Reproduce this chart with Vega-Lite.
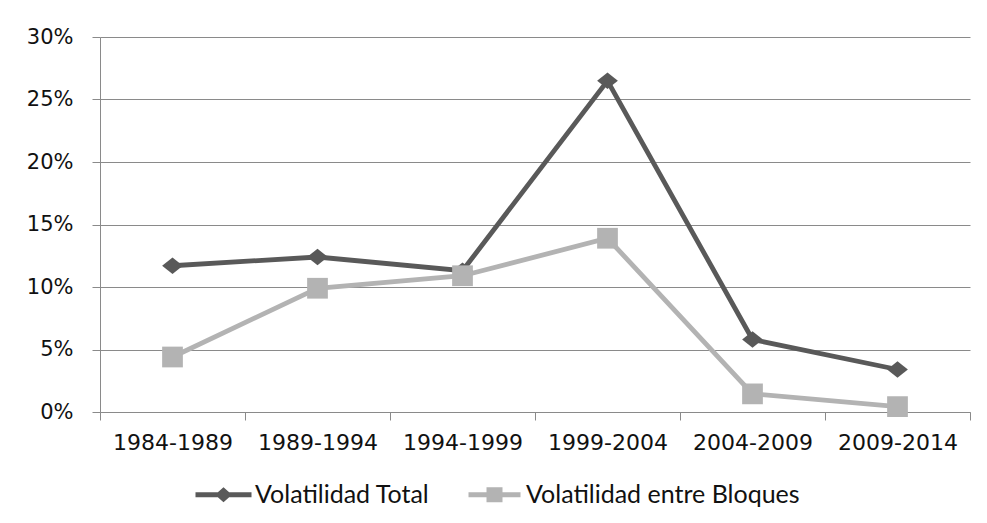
{
  "$schema": "https://vega.github.io/schema/vega-lite/v6.json",
  "autosize": "none",
  "width": 870,
  "height": 375,
  "padding": {"left": 100, "top": 37, "right": 17, "bottom": 111},
  "background": "white",
  "data": {
    "values": [
      {"periodo": "1984-1989", "serie": "Volatilidad Total", "valor": 0.117},
      {"periodo": "1989-1994", "serie": "Volatilidad Total", "valor": 0.124},
      {"periodo": "1994-1999", "serie": "Volatilidad Total", "valor": 0.113},
      {"periodo": "1999-2004", "serie": "Volatilidad Total", "valor": 0.265},
      {"periodo": "2004-2009", "serie": "Volatilidad Total", "valor": 0.058},
      {"periodo": "2009-2014", "serie": "Volatilidad Total", "valor": 0.034},
      {"periodo": "1984-1989", "serie": "Volatilidad entre Bloques", "valor": 0.044},
      {"periodo": "1989-1994", "serie": "Volatilidad entre Bloques", "valor": 0.099},
      {"periodo": "1994-1999", "serie": "Volatilidad entre Bloques", "valor": 0.109},
      {"periodo": "1999-2004", "serie": "Volatilidad entre Bloques", "valor": 0.139},
      {"periodo": "2004-2009", "serie": "Volatilidad entre Bloques", "valor": 0.0145},
      {"periodo": "2009-2014", "serie": "Volatilidad entre Bloques", "valor": 0.0043}
    ]
  },
  "encoding": {
    "x": {
      "field": "periodo",
      "type": "nominal",
      "sort": null,
      "scale": {"type": "band", "paddingInner": 0, "paddingOuter": 0},
      "axis": {
        "title": null,
        "labelAngle": 0,
        "tickBand": "extent",
        "tickSize": 8,
        "tickColor": "#8a8a8a",
        "domainColor": "#8a8a8a",
        "labelFont": "DejaVu Sans",
        "labelFontSize": 22,
        "labelColor": "#111111",
        "labelPadding": 12,
        "grid": false
      }
    },
    "y": {
      "field": "valor",
      "type": "quantitative",
      "scale": {"domain": [0, 0.3], "nice": false},
      "axis": {
        "title": null,
        "values": [0, 0.05, 0.1, 0.15, 0.2, 0.25, 0.3],
        "format": ".0%",
        "tickSize": 8,
        "tickColor": "#8a8a8a",
        "domainColor": "#8a8a8a",
        "gridColor": "#8a8a8a",
        "gridOpacity": 1,
        "labelFont": "DejaVu Sans",
        "labelFontSize": 21,
        "labelColor": "#111111",
        "labelPadding": 19
      }
    },
    "color": {
      "field": "serie",
      "type": "nominal",
      "scale": {
        "domain": ["Volatilidad Total", "Volatilidad entre Bloques"],
        "range": ["#595959", "#b3b3b3"]
      },
      "legend": {
        "title": null,
        "orient": "none",
        "direction": "horizontal",
        "columns": 2,
        "legendX": 111,
        "legendY": 445,
        "padding": 0,
        "symbolSize": 400,
        "symbolType": "M-2.8,-0.25L2.8,-0.25L2.8,0.25L-2.8,0.25Z",
        "labelFont": "Lato",
        "labelFontSize": 25,
        "labelColor": "#111111",
        "labelOffset": 19,
        "labelLimit": 400,
        "columnPadding": 38,
        "encode": {
          "symbols": {
            "update": {
              "shape": {"signal": "datum.value === 'Volatilidad Total' ? 'M-2.8,-0.25L2.8,-0.25L2.8,0.25L-2.8,0.25Z M-0.85,0L0,-0.75L0.85,0L0,0.75Z' : 'M-2.6,-0.25L2.6,-0.25L2.6,0.25L-2.6,0.25Z M-0.8,-0.75L0.8,-0.75L0.8,0.75L-0.8,0.75Z'"},
              "fill": {"signal": "datum.value === 'Volatilidad Total' ? '#595959' : '#b3b3b3'"},
              "fillOpacity": {"value": 1},
              "strokeWidth": {"value": 0},
              "opacity": {"value": 1}
            }
          }
        }
      }
    }
  },
  "layer": [
    {
      "mark": {"type": "line", "strokeWidth": 4.8}
    },
    {
      "transform": [{"filter": "datum.serie === 'Volatilidad Total'"}],
      "mark": {"type": "point", "filled": true, "opacity": 1, "size": 430, "shape": "M-1,0L0,-0.8L1,0L0,0.8Z"}
    },
    {
      "transform": [{"filter": "datum.serie === 'Volatilidad entre Bloques'"}],
      "mark": {"type": "point", "filled": true, "opacity": 1, "size": 430, "shape": "square"}
    }
  ],
  "config": {
    "view": {"stroke": null},
    "axis": {"gridWidth": 1, "domainWidth": 1, "tickWidth": 1}
  }
}
